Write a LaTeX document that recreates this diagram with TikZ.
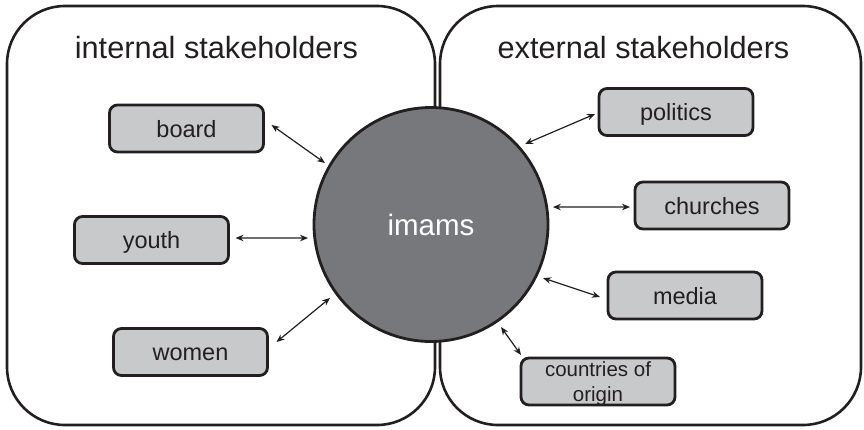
\documentclass[tikz,border=0pt]{standalone}
\usepackage{fontspec}
\setmainfont{Liberation Sans}
\usetikzlibrary{arrows.meta}
\definecolor{boxgray}{RGB}{200,201,203}
\definecolor{circgray}{RGB}{119,120,123}
\definecolor{ink}{RGB}{35,31,32}
\begin{document}
\begin{tikzpicture}[x=1pt,y=-1pt,
  group/.style={draw=ink,line width=2.6pt,rounded corners=58pt,inner sep=0pt,outer sep=0pt},
  title/.style={anchor=base,text=ink,font=\fontsize{30.7}{36}\selectfont},
  stake/.style={draw=ink,fill=boxgray,line width=2.8pt,rounded corners=8pt,inner sep=0pt,outer sep=0pt,
    minimum width=154pt,minimum height=47pt,text=ink,
    font=\fontsize{23.5}{26}\selectfont,text height=17pt,text depth=0pt},
  hub/.style={circle,draw=ink,fill=circgray,line width=2.8pt,inner sep=0pt,outer sep=0pt,
    minimum size=234pt,text=white,font=\fontsize{29.5}{34}\selectfont,text height=21.2pt,text depth=0pt},
  biarrow/.style={draw=ink,line width=1.2pt,{Stealth[length=8pt,width=6.5pt]}-{Stealth[length=8pt,width=6.5pt]}}
]
\useasboundingbox (0,0) rectangle (864,429);
\node[group,minimum width=428pt,minimum height=419pt] (internal) at (221,215.5) {};
\node[group,minimum width=421pt,minimum height=419pt] (external) at (650.5,215.5) {};
\node[title] (tint) at (216.5,58) {internal stakeholders};
\node[title] (text) at (643.5,58) {external stakeholders};
\node[hub] (imams) at (431,224.5) {imams};
\node[stake] (board) at (186.5,128.5) {board};
\node[stake] (youth) at (151.5,240) {youth};
\node[stake] (women) at (190.5,352) {women};
\node[stake] (politics) at (676,112) {politics};
\node[stake] (churches) at (712,205.5) {churches};
\node[stake] (media) at (685,295.5) {media};
\node[stake,align=center,font=\fontsize{20.5}{24.5}\selectfont,text height={},text depth=0pt] (countries) at (598,381.5) {countries of\\origin};
\draw[biarrow] ([shift={(8,-3.5)}]board.east) -- ([shift={(-4.7,-3)}]imams.150);
\draw[biarrow] ([shift={(7,-2)}]youth.east) -- ([shift={(-6.6,1.3)}]imams.186);
\draw[biarrow] ([shift={(9,-10)}]women.east) -- ([shift={(-6.3,4.7)}]imams.216);
\draw[biarrow] ([shift={(4.4,-5.3)}]imams.40) -- ([shift={(-4,2)}]politics.west);
\draw[biarrow] ([shift={(6,-1.2)}]imams.8) -- ([shift={(-5,1.5)}]churches.west);
\draw[biarrow] ([shift={(6,4.1)}]imams.-25) -- ([shift={(-8,1.5)}]media.west);
\draw[biarrow] ([shift={(2.9,6.7)}]imams.-55) -- ([shift={(0,-3)}]countries.north west);
\end{tikzpicture}
\end{document}
